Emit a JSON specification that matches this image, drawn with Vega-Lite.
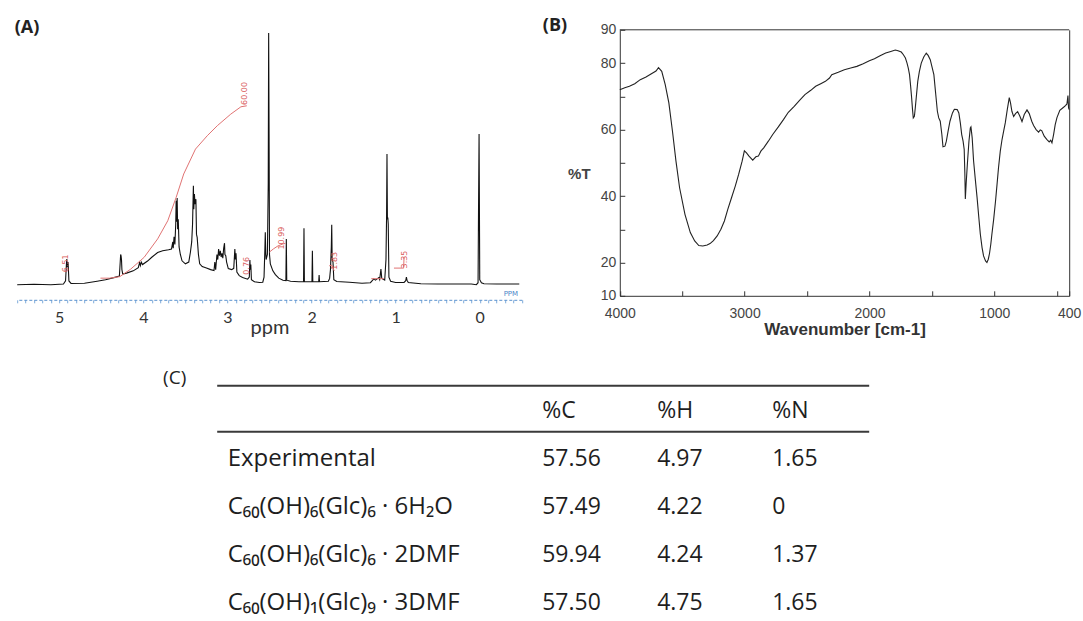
{
  "$schema": "https://vega.github.io/schema/vega-lite/v6.json",
  "padding": {"left": 13.2, "top": 16.8, "right": 4, "bottom": 2},
  "background": "white",
  "config": {
    "view": {"stroke": null},
    "axis": {"grid": false}
  },
  "datasets": {
    "nmr": [
      {"ppm": 5.5, "intensity": 0.0}, {"ppm": 5.3, "intensity": 0.2}, {"ppm": 5.1, "intensity": 0.0},
      {"ppm": 4.95, "intensity": 0.3}, {"ppm": 4.925, "intensity": 1.5}, {"ppm": 4.915, "intensity": 8.0},
      {"ppm": 4.91, "intensity": 10.2}, {"ppm": 4.905, "intensity": 7.0}, {"ppm": 4.895, "intensity": 9.0},
      {"ppm": 4.885, "intensity": 1.5}, {"ppm": 4.86, "intensity": 0.5}, {"ppm": 4.7, "intensity": 0.6},
      {"ppm": 4.55, "intensity": 1.4}, {"ppm": 4.45, "intensity": 2.0}, {"ppm": 4.35, "intensity": 2.8},
      {"ppm": 4.285, "intensity": 3.4}, {"ppm": 4.275, "intensity": 9.0}, {"ppm": 4.27, "intensity": 12.0},
      {"ppm": 4.265, "intensity": 11.5}, {"ppm": 4.26, "intensity": 10.0}, {"ppm": 4.255, "intensity": 6.0},
      {"ppm": 4.245, "intensity": 4.2}, {"ppm": 4.2, "intensity": 4.6}, {"ppm": 4.12, "intensity": 5.5},
      {"ppm": 4.06, "intensity": 6.8}, {"ppm": 4.045, "intensity": 8.8}, {"ppm": 4.035, "intensity": 7.6},
      {"ppm": 4.025, "intensity": 9.0}, {"ppm": 4.01, "intensity": 8.0}, {"ppm": 3.95, "intensity": 9.4},
      {"ppm": 3.9, "intensity": 10.9}, {"ppm": 3.83, "intensity": 12.8}, {"ppm": 3.77, "intensity": 13.5},
      {"ppm": 3.7, "intensity": 13.9}, {"ppm": 3.665, "intensity": 14.2}, {"ppm": 3.65, "intensity": 17.0},
      {"ppm": 3.645, "intensity": 14.5}, {"ppm": 3.635, "intensity": 19.0}, {"ppm": 3.625, "intensity": 16.0},
      {"ppm": 3.615, "intensity": 24.0}, {"ppm": 3.61, "intensity": 33.4}, {"ppm": 3.605, "intensity": 25.0},
      {"ppm": 3.598, "intensity": 34.5}, {"ppm": 3.592, "intensity": 22.0}, {"ppm": 3.585, "intensity": 26.0},
      {"ppm": 3.575, "intensity": 15.0}, {"ppm": 3.56, "intensity": 12.0}, {"ppm": 3.54, "intensity": 9.5},
      {"ppm": 3.5, "intensity": 8.3}, {"ppm": 3.46, "intensity": 9.0}, {"ppm": 3.44, "intensity": 13.0},
      {"ppm": 3.425, "intensity": 17.0}, {"ppm": 3.415, "intensity": 24.0}, {"ppm": 3.405, "intensity": 39.3},
      {"ppm": 3.4, "intensity": 30.0}, {"ppm": 3.393, "intensity": 36.0}, {"ppm": 3.385, "intensity": 32.0},
      {"ppm": 3.375, "intensity": 34.0}, {"ppm": 3.368, "intensity": 20.0}, {"ppm": 3.36, "intensity": 18.8},
      {"ppm": 3.345, "intensity": 12.0}, {"ppm": 3.33, "intensity": 8.3}, {"ppm": 3.3, "intensity": 7.2},
      {"ppm": 3.25, "intensity": 6.6}, {"ppm": 3.2, "intensity": 6.0}, {"ppm": 3.16, "intensity": 5.6},
      {"ppm": 3.15, "intensity": 9.0}, {"ppm": 3.14, "intensity": 6.0}, {"ppm": 3.125, "intensity": 12.0},
      {"ppm": 3.115, "intensity": 10.0}, {"ppm": 3.105, "intensity": 14.2}, {"ppm": 3.095, "intensity": 11.5},
      {"ppm": 3.085, "intensity": 13.5}, {"ppm": 3.075, "intensity": 11.0}, {"ppm": 3.065, "intensity": 12.5},
      {"ppm": 3.055, "intensity": 10.5}, {"ppm": 3.045, "intensity": 14.5}, {"ppm": 3.035, "intensity": 16.5},
      {"ppm": 3.03, "intensity": 12.0}, {"ppm": 3.02, "intensity": 11.5}, {"ppm": 3.01, "intensity": 9.0},
      {"ppm": 2.99, "intensity": 6.4}, {"ppm": 2.95, "intensity": 6.0}, {"ppm": 2.925, "intensity": 6.5},
      {"ppm": 2.912, "intensity": 14.2}, {"ppm": 2.905, "intensity": 10.0}, {"ppm": 2.898, "intensity": 12.5},
      {"ppm": 2.888, "intensity": 5.0}, {"ppm": 2.86, "intensity": 3.6}, {"ppm": 2.82, "intensity": 2.9},
      {"ppm": 2.76, "intensity": 2.2}, {"ppm": 2.74, "intensity": 3.0}, {"ppm": 2.733, "intensity": 9.8},
      {"ppm": 2.728, "intensity": 6.0}, {"ppm": 2.722, "intensity": 8.0}, {"ppm": 2.715, "intensity": 2.0},
      {"ppm": 2.68, "intensity": 1.2}, {"ppm": 2.62, "intensity": 0.9}, {"ppm": 2.58, "intensity": 1.0},
      {"ppm": 2.565, "intensity": 3.0}, {"ppm": 2.555, "intensity": 14.0}, {"ppm": 2.55, "intensity": 20.8},
      {"ppm": 2.545, "intensity": 13.0}, {"ppm": 2.54, "intensity": 10.0}, {"ppm": 2.525, "intensity": 12.0},
      {"ppm": 2.515, "intensity": 40.0}, {"ppm": 2.51, "intensity": 100.0}, {"ppm": 2.505, "intensity": 60.0},
      {"ppm": 2.5, "intensity": 12.0}, {"ppm": 2.49, "intensity": 8.3}, {"ppm": 2.46, "intensity": 5.5},
      {"ppm": 2.43, "intensity": 4.0}, {"ppm": 2.39, "intensity": 2.6}, {"ppm": 2.34, "intensity": 1.8},
      {"ppm": 2.305, "intensity": 1.6}, {"ppm": 2.3, "intensity": 18.2}, {"ppm": 2.295, "intensity": 1.8},
      {"ppm": 2.25, "intensity": 1.4}, {"ppm": 2.15, "intensity": 1.2}, {"ppm": 2.095, "intensity": 1.3},
      {"ppm": 2.09, "intensity": 22.4}, {"ppm": 2.085, "intensity": 1.3}, {"ppm": 2.04, "intensity": 1.2},
      {"ppm": 1.995, "intensity": 1.2}, {"ppm": 1.99, "intensity": 13.5}, {"ppm": 1.985, "intensity": 1.2},
      {"ppm": 1.94, "intensity": 1.2}, {"ppm": 1.915, "intensity": 1.2}, {"ppm": 1.91, "intensity": 3.8},
      {"ppm": 1.905, "intensity": 1.2}, {"ppm": 1.8, "intensity": 1.4}, {"ppm": 1.785, "intensity": 2.5},
      {"ppm": 1.775, "intensity": 6.0}, {"ppm": 1.765, "intensity": 15.0}, {"ppm": 1.76, "intensity": 23.8},
      {"ppm": 1.755, "intensity": 10.0}, {"ppm": 1.745, "intensity": 9.0}, {"ppm": 1.735, "intensity": 2.0},
      {"ppm": 1.7, "intensity": 1.3}, {"ppm": 1.55, "intensity": 1.0}, {"ppm": 1.4, "intensity": 0.6},
      {"ppm": 1.3, "intensity": 0.8}, {"ppm": 1.26, "intensity": 2.3}, {"ppm": 1.24, "intensity": 1.8},
      {"ppm": 1.2, "intensity": 2.8}, {"ppm": 1.19, "intensity": 2.0}, {"ppm": 1.175, "intensity": 6.2},
      {"ppm": 1.165, "intensity": 2.5}, {"ppm": 1.13, "intensity": 1.8}, {"ppm": 1.115, "intensity": 10.0},
      {"ppm": 1.108, "intensity": 26.7}, {"ppm": 1.103, "intensity": 51.9}, {"ppm": 1.098, "intensity": 26.0},
      {"ppm": 1.093, "intensity": 26.7}, {"ppm": 1.088, "intensity": 24.0}, {"ppm": 1.08, "intensity": 3.0},
      {"ppm": 1.06, "intensity": 1.4}, {"ppm": 1.0, "intensity": 0.9}, {"ppm": 0.9, "intensity": 0.9},
      {"ppm": 0.88, "intensity": 1.6}, {"ppm": 0.872, "intensity": 3.0}, {"ppm": 0.865, "intensity": 1.8},
      {"ppm": 0.85, "intensity": 0.9}, {"ppm": 0.7, "intensity": 0.4}, {"ppm": 0.5, "intensity": 0.3},
      {"ppm": 0.3, "intensity": 0.3}, {"ppm": 0.1, "intensity": 0.3}, {"ppm": 0.04, "intensity": 0.0},
      {"ppm": 0.02, "intensity": 0.8}, {"ppm": 0.015, "intensity": 26.7}, {"ppm": 0.008, "intensity": 59.9},
      {"ppm": 0.0, "intensity": 2.0}, {"ppm": -0.02, "intensity": 0.8}, {"ppm": -0.05, "intensity": 0.4},
      {"ppm": -0.2, "intensity": 0.3}, {"ppm": -0.47, "intensity": 0.3}
    ],
    "integrals": [
      {"region": "a", "ppm": 4.51, "intensity": 2.6}, {"region": "a", "ppm": 4.4, "intensity": 2.6},
      {"region": "a", "ppm": 4.28, "intensity": 3.2}, {"region": "a", "ppm": 4.15, "intensity": 6.2},
      {"region": "a", "ppm": 3.99, "intensity": 10.9}, {"region": "a", "ppm": 3.83, "intensity": 18.2},
      {"region": "a", "ppm": 3.71, "intensity": 25.4}, {"region": "a", "ppm": 3.61, "intensity": 34.7},
      {"region": "a", "ppm": 3.52, "intensity": 44.0}, {"region": "a", "ppm": 3.38, "intensity": 53.9},
      {"region": "a", "ppm": 3.24, "intensity": 59.2}, {"region": "a", "ppm": 3.12, "intensity": 63.2},
      {"region": "a", "ppm": 2.96, "intensity": 67.8}, {"region": "a", "ppm": 2.84, "intensity": 70.7},
      {"region": "a", "ppm": 2.77, "intensity": 71.1},
      {"region": "b", "ppm": 2.5, "intensity": 13.0}, {"region": "b", "ppm": 2.45, "intensity": 14.3},
      {"region": "b", "ppm": 2.4, "intensity": 15.4}, {"region": "b", "ppm": 2.34, "intensity": 16.2},
      {"region": "b", "ppm": 2.31, "intensity": 16.4},
      {"region": "c", "ppm": 1.79, "intensity": 7.5}, {"region": "c", "ppm": 1.76, "intensity": 7.8},
      {"region": "c", "ppm": 1.73, "intensity": 5.5},
      {"region": "d", "ppm": 1.29, "intensity": 2.4}, {"region": "d", "ppm": 1.14, "intensity": 2.4},
      {"region": "e", "ppm": 1.02, "intensity": 6.6}, {"region": "e", "ppm": 0.905, "intensity": 6.6},
      {"region": "e", "ppm": 0.9, "intensity": 10.9}
    ],
    "integralLabels": [
      {"ppm": 2.79, "intensity": 76.0, "label": "60.00"},
      {"ppm": 2.35, "intensity": 18.5, "label": "10.99"},
      {"ppm": 2.77, "intensity": 7.5, "label": "0.76"},
      {"ppm": 1.72, "intensity": 9.5, "label": "1.83"},
      {"ppm": 0.89, "intensity": 10.0, "label": "3.35"},
      {"ppm": 4.92, "intensity": 8.5, "label": "6.51"}
    ],
    "ir": [
      {"wavenumber": 4000, "transmittance": 72.0}, {"wavenumber": 3960, "transmittance": 72.6},
      {"wavenumber": 3923, "transmittance": 73.0}, {"wavenumber": 3880, "transmittance": 73.8},
      {"wavenumber": 3836, "transmittance": 75.0}, {"wavenumber": 3790, "transmittance": 75.8},
      {"wavenumber": 3750, "transmittance": 76.7}, {"wavenumber": 3710, "transmittance": 77.6},
      {"wavenumber": 3690, "transmittance": 78.6}, {"wavenumber": 3664, "transmittance": 77.5},
      {"wavenumber": 3636, "transmittance": 73.5}, {"wavenumber": 3607, "transmittance": 68.0},
      {"wavenumber": 3578, "transmittance": 59.5}, {"wavenumber": 3550, "transmittance": 50.5},
      {"wavenumber": 3521, "transmittance": 42.5}, {"wavenumber": 3478, "transmittance": 34.5},
      {"wavenumber": 3435, "transmittance": 29.0}, {"wavenumber": 3400, "transmittance": 26.5},
      {"wavenumber": 3367, "transmittance": 25.1}, {"wavenumber": 3335, "transmittance": 25.0},
      {"wavenumber": 3300, "transmittance": 25.3}, {"wavenumber": 3277, "transmittance": 25.7},
      {"wavenumber": 3250, "transmittance": 26.6}, {"wavenumber": 3220, "transmittance": 28.0},
      {"wavenumber": 3190, "transmittance": 30.0}, {"wavenumber": 3162, "transmittance": 32.5},
      {"wavenumber": 3135, "transmittance": 36.0}, {"wavenumber": 3105, "transmittance": 39.5},
      {"wavenumber": 3075, "transmittance": 43.0}, {"wavenumber": 3048, "transmittance": 46.5},
      {"wavenumber": 3020, "transmittance": 50.5}, {"wavenumber": 3002, "transmittance": 53.6},
      {"wavenumber": 2985, "transmittance": 53.0}, {"wavenumber": 2965, "transmittance": 52.0},
      {"wavenumber": 2935, "transmittance": 50.8}, {"wavenumber": 2910, "transmittance": 51.8},
      {"wavenumber": 2890, "transmittance": 52.0}, {"wavenumber": 2870, "transmittance": 53.5},
      {"wavenumber": 2847, "transmittance": 54.5}, {"wavenumber": 2810, "transmittance": 56.5},
      {"wavenumber": 2775, "transmittance": 58.5}, {"wavenumber": 2730, "transmittance": 60.8},
      {"wavenumber": 2689, "transmittance": 63.0}, {"wavenumber": 2650, "transmittance": 65.2},
      {"wavenumber": 2603, "transmittance": 67.0}, {"wavenumber": 2560, "transmittance": 68.8},
      {"wavenumber": 2517, "transmittance": 70.5}, {"wavenumber": 2470, "transmittance": 71.8},
      {"wavenumber": 2431, "transmittance": 73.0}, {"wavenumber": 2390, "transmittance": 73.8},
      {"wavenumber": 2353, "transmittance": 74.5}, {"wavenumber": 2320, "transmittance": 75.5},
      {"wavenumber": 2302, "transmittance": 76.5}, {"wavenumber": 2250, "transmittance": 77.2},
      {"wavenumber": 2201, "transmittance": 78.0}, {"wavenumber": 2150, "transmittance": 78.5},
      {"wavenumber": 2101, "transmittance": 79.0}, {"wavenumber": 2050, "transmittance": 79.8},
      {"wavenumber": 2001, "transmittance": 80.7}, {"wavenumber": 1960, "transmittance": 81.3},
      {"wavenumber": 1915, "transmittance": 82.2}, {"wavenumber": 1870, "transmittance": 83.0},
      {"wavenumber": 1829, "transmittance": 83.5}, {"wavenumber": 1793, "transmittance": 83.9},
      {"wavenumber": 1771, "transmittance": 83.7}, {"wavenumber": 1745, "transmittance": 83.3},
      {"wavenumber": 1728, "transmittance": 82.5}, {"wavenumber": 1712, "transmittance": 81.5},
      {"wavenumber": 1699, "transmittance": 80.0}, {"wavenumber": 1689, "transmittance": 78.5},
      {"wavenumber": 1679, "transmittance": 76.5}, {"wavenumber": 1670, "transmittance": 73.0},
      {"wavenumber": 1662, "transmittance": 69.5}, {"wavenumber": 1655, "transmittance": 66.0},
      {"wavenumber": 1649, "transmittance": 63.5}, {"wavenumber": 1640, "transmittance": 64.0},
      {"wavenumber": 1633, "transmittance": 66.5}, {"wavenumber": 1623, "transmittance": 70.5},
      {"wavenumber": 1613, "transmittance": 74.5}, {"wavenumber": 1600, "transmittance": 77.5},
      {"wavenumber": 1585, "transmittance": 80.0}, {"wavenumber": 1565, "transmittance": 81.8},
      {"wavenumber": 1545, "transmittance": 83.0}, {"wavenumber": 1530, "transmittance": 82.3},
      {"wavenumber": 1513, "transmittance": 81.0}, {"wavenumber": 1500, "transmittance": 79.0},
      {"wavenumber": 1484, "transmittance": 76.5}, {"wavenumber": 1470, "transmittance": 71.0},
      {"wavenumber": 1456, "transmittance": 65.5}, {"wavenumber": 1445, "transmittance": 63.5},
      {"wavenumber": 1433, "transmittance": 62.5}, {"wavenumber": 1420, "transmittance": 58.5},
      {"wavenumber": 1411, "transmittance": 54.8}, {"wavenumber": 1395, "transmittance": 55.0},
      {"wavenumber": 1384, "transmittance": 56.5}, {"wavenumber": 1370, "transmittance": 59.5},
      {"wavenumber": 1355, "transmittance": 62.5}, {"wavenumber": 1335, "transmittance": 65.0},
      {"wavenumber": 1320, "transmittance": 66.1}, {"wavenumber": 1297, "transmittance": 66.0},
      {"wavenumber": 1284, "transmittance": 65.0}, {"wavenumber": 1272, "transmittance": 62.0},
      {"wavenumber": 1261, "transmittance": 58.5}, {"wavenumber": 1250, "transmittance": 56.5},
      {"wavenumber": 1241, "transmittance": 54.0}, {"wavenumber": 1236, "transmittance": 47.0},
      {"wavenumber": 1232, "transmittance": 39.1}, {"wavenumber": 1225, "transmittance": 44.0},
      {"wavenumber": 1215, "transmittance": 50.0}, {"wavenumber": 1203, "transmittance": 56.5},
      {"wavenumber": 1192, "transmittance": 60.5}, {"wavenumber": 1187, "transmittance": 60.8},
      {"wavenumber": 1177, "transmittance": 57.5}, {"wavenumber": 1166, "transmittance": 50.6},
      {"wavenumber": 1152, "transmittance": 45.0}, {"wavenumber": 1138, "transmittance": 39.6},
      {"wavenumber": 1125, "transmittance": 34.0}, {"wavenumber": 1112, "transmittance": 28.6},
      {"wavenumber": 1098, "transmittance": 24.5}, {"wavenumber": 1086, "transmittance": 22.0},
      {"wavenumber": 1070, "transmittance": 20.5}, {"wavenumber": 1059, "transmittance": 20.0},
      {"wavenumber": 1048, "transmittance": 21.0}, {"wavenumber": 1038, "transmittance": 22.8},
      {"wavenumber": 1028, "transmittance": 25.5}, {"wavenumber": 1019, "transmittance": 28.6},
      {"wavenumber": 1005, "transmittance": 33.0}, {"wavenumber": 990, "transmittance": 38.5},
      {"wavenumber": 978, "transmittance": 43.5}, {"wavenumber": 966, "transmittance": 48.6},
      {"wavenumber": 952, "transmittance": 53.5}, {"wavenumber": 938, "transmittance": 57.0},
      {"wavenumber": 925, "transmittance": 59.5}, {"wavenumber": 912, "transmittance": 62.0},
      {"wavenumber": 896, "transmittance": 66.0}, {"wavenumber": 880, "transmittance": 69.6},
      {"wavenumber": 870, "transmittance": 68.0}, {"wavenumber": 859, "transmittance": 65.5},
      {"wavenumber": 845, "transmittance": 63.9}, {"wavenumber": 830, "transmittance": 64.8},
      {"wavenumber": 813, "transmittance": 65.4}, {"wavenumber": 795, "transmittance": 64.0},
      {"wavenumber": 778, "transmittance": 62.4}, {"wavenumber": 760, "transmittance": 64.5},
      {"wavenumber": 738, "transmittance": 65.9}, {"wavenumber": 720, "transmittance": 64.8},
      {"wavenumber": 700, "transmittance": 62.5}, {"wavenumber": 685, "transmittance": 61.2},
      {"wavenumber": 665, "transmittance": 60.0}, {"wavenumber": 645, "transmittance": 59.2},
      {"wavenumber": 632, "transmittance": 59.9}, {"wavenumber": 620, "transmittance": 59.7},
      {"wavenumber": 600, "transmittance": 58.0}, {"wavenumber": 578, "transmittance": 57.0},
      {"wavenumber": 560, "transmittance": 56.3}, {"wavenumber": 548, "transmittance": 56.8},
      {"wavenumber": 538, "transmittance": 56.0}, {"wavenumber": 525, "transmittance": 58.5},
      {"wavenumber": 512, "transmittance": 61.5}, {"wavenumber": 498, "transmittance": 63.6},
      {"wavenumber": 475, "transmittance": 65.8}, {"wavenumber": 445, "transmittance": 66.7},
      {"wavenumber": 430, "transmittance": 67.2}, {"wavenumber": 418, "transmittance": 67.7},
      {"wavenumber": 410, "transmittance": 70.2}, {"wavenumber": 405, "transmittance": 66.5},
      {"wavenumber": 400, "transmittance": 66.0}
    ],
    "elemental": [
      {"sample": "Experimental", "%C": "57.56", "%H": "4.97", "%N": "1.65"},
      {"sample": "C₆₀(OH)₆(Glc)₆ · 6H₂O", "%C": "57.49", "%H": "4.22", "%N": "0"},
      {"sample": "C₆₀(OH)₆(Glc)₆ · 2DMF", "%C": "59.94", "%H": "4.24", "%N": "1.37"},
      {"sample": "C₆₀(OH)₁(Glc)₉ · 3DMF", "%C": "57.50", "%H": "4.75", "%N": "1.65"}
    ]
  },
  "vconcat": [
    {
      "width": 1052,
      "height": 270,
      "layer": [
        {
          "layer": [
            {
              "data": {"name": "nmr"},
              "mark": {"type": "line", "color": "#111", "strokeWidth": 1.1},
              "encoding": {
                "x": {
                  "field": "ppm", "type": "quantitative",
                  "scale": {"domain": [-0.5, 5.5], "reverse": true, "nice": false, "zero": false, "range": [0, 504.6]},
                  "axis": {
                    "orient": "bottom", "offset": 0,
                    "tickCount": 60, "format": ".1f",
                    "labelExpr": "abs(datum.value - round(datum.value)) < 0.001 ? format(datum.value, 'd') : ''",
                    "labelOverlap": false, "labelFlush": false,
                    "domainColor": "#5b93cf", "domainDash": [3, 2], "domainWidth": 1,
                    "tickColor": "#5b93cf", "tickSize": 3, "tickWidth": 0.8,
                    "labelFont": "Lato", "labelFontSize": 16, "labelColor": "#333",
                    "labelBaseline": "alphabetic", "labelPadding": 20,
                    "title": "ppm", "titleFont": "Lato", "titleFontSize": 20, "titleFontWeight": "normal",
                    "titleColor": "#333", "titleBaseline": "alphabetic", "titleY": 34
                  }
                },
                "y": {
                  "field": "intensity", "type": "quantitative",
                  "scale": {"domain": [-6, 101.3], "nice": false, "zero": false, "range": [270, 0]},
                  "axis": {
                    "orient": "left", "domain": false, "ticks": false, "labels": false, "grid": false,
                    "title": "(A)", "titleAngle": 0, "titleAlign": "center", "titleBaseline": "middle",
                    "titleX": 9.3, "titleY": -2.5,
                    "titleFont": "Open Sans", "titleFontSize": 18, "titleFontWeight": "bold", "titleColor": "#222"
                  }
                }
              }
            },
            {
              "data": {"name": "integrals"},
              "mark": {"type": "line", "color": "#e07272", "strokeWidth": 1},
              "encoding": {
                "x": {"field": "ppm", "type": "quantitative"},
                "y": {"field": "intensity", "type": "quantitative"},
                "detail": {"field": "region"}
              }
            },
            {
              "data": {"name": "integralLabels"},
              "mark": {"type": "text", "angle": 270, "color": "#d95a5a", "fontSize": 8, "font": "DejaVu Sans"},
              "encoding": {
                "x": {"field": "ppm", "type": "quantitative"},
                "y": {"field": "intensity", "type": "quantitative"},
                "text": {"field": "label"}
              }
            },
            {
              "data": {"values": [{"ppm": -0.37, "intensity": -3.8, "label": "PPM"}]},
              "mark": {"type": "text", "color": "#4a86c8", "fontSize": 7, "font": "DejaVu Sans"},
              "encoding": {
                "x": {"field": "ppm", "type": "quantitative"},
                "y": {"field": "intensity", "type": "quantitative"},
                "text": {"field": "label"}
              }
            }
          ]
        },
        {
          "layer": [
            {
              "data": {"name": "ir"},
              "mark": {"type": "line", "color": "#222", "strokeWidth": 1.1},
              "encoding": {
                "x": {
                  "field": "wavenumber", "type": "quantitative",
                  "scale": {"domain": [400, 4000], "reverse": true, "nice": false, "zero": false, "range": [602.6, 1052]},
                  "axis": {
                    "orient": "bottom", "offset": -4,
                    "values": [4000, 3500, 3000, 2500, 2000, 1500, 1000, 500, 400],
                    "format": "d",
                    "labelExpr": "indexof([4000, 3000, 2000, 1000, 400], datum.value) >= 0 ? datum.label : ''",
                    "labelOverlap": false, "labelFlush": false,
                    "domainColor": "#333", "tickColor": "#333", "tickSize": -5,
                    "labelFont": "Liberation Sans", "labelFontSize": 14, "labelColor": "#444",
                    "labelBaseline": "alphabetic", "labelPadding": 27,
                    "title": "Wavenumber [cm-1]", "titleFont": "Liberation Sans", "titleFontSize": 17,
                    "titleFontWeight": "bold", "titleColor": "#333", "titleBaseline": "alphabetic", "titleY": 39
                  }
                },
                "y": {
                  "field": "transmittance", "type": "quantitative",
                  "scale": {"domain": [10, 90], "nice": false, "zero": false, "range": [266, 0]},
                  "axis": {
                    "orient": "left", "offset": -602.6,
                    "values": [10, 20, 30, 40, 50, 60, 70, 80, 90],
                    "labelExpr": "indexof([30, 50, 70], datum.value) >= 0 ? '' : datum.label",
                    "labelOverlap": false, "labelFlush": false,
                    "domainColor": "#333", "tickColor": "#333", "tickSize": -5,
                    "labelFont": "Liberation Sans", "labelFontSize": 14, "labelColor": "#444",
                    "labelPadding": 9,
                    "title": "%T", "titleFont": "Liberation Sans", "titleFontSize": 15, "titleFontWeight": "bold",
                    "titleColor": "#444", "titleAngle": 0, "titleAlign": "center", "titleBaseline": "middle",
                    "titleX": -41, "titleY": 144
                  }
                }
              }
            },
            {
              "data": {"values": [{}]},
              "mark": {"type": "rule", "color": "#333", "strokeWidth": 1},
              "encoding": {
                "x": {"datum": 4000, "type": "quantitative", "axis": null},
                "x2": {"datum": 400},
                "y": {
                  "datum": 90, "type": "quantitative",
                  "axis": {
                    "orient": "right", "offset": 0, "domain": true, "domainColor": "#333",
                    "ticks": false, "labels": false, "grid": false,
                    "title": "(B)", "titleAngle": 0, "titleAlign": "center", "titleBaseline": "middle",
                    "titleX": -514.7, "titleY": -4,
                    "titleFont": "Open Sans", "titleFontSize": 18, "titleFontWeight": "bold", "titleColor": "#222"
                  }
                }
              }
            }
          ],
          "resolve": {"axis": {"x": "independent", "y": "independent"}}
        }
      ],
      "resolve": {
        "scale": {"x": "independent", "y": "independent"},
        "axis": {"x": "independent", "y": "independent"}
      }
    },
    {
      "width": 652,
      "height": 230,
      "data": {"name": "elemental"},
      "layer": [
        {
          "mark": {"type": "rule", "color": "#3a3a3a", "strokeWidth": 2, "yOffset": -25},
          "transform": [{"filter": "datum.sample === 'Experimental'"}],
          "encoding": {"y": {"datum": "head", "type": "nominal"}}
        },
        {
          "mark": {"type": "rule", "color": "#3a3a3a", "strokeWidth": 2, "yOffset": 21},
          "transform": [{"filter": "datum.sample === 'Experimental'"}],
          "encoding": {"y": {"datum": "head", "type": "nominal"}}
        },
        {
          "transform": [{"fold": ["%C", "%H", "%N"], "as": ["key", "value"]}],
          "mark": {"type": "text", "align": "left", "baseline": "middle", "fontSize": 23, "font": "Open Sans", "color": "#1e1e1e"},
          "encoding": {
            "x": {"field": "key", "type": "nominal", "scale": {"type": "point", "domain": ["%C", "%H", "%N"], "range": [325, 555], "padding": 0}, "axis": null},
            "y": {
              "field": "sample", "type": "nominal",
              "scale": {"type": "point", "domain": ["head", "Experimental", "C₆₀(OH)₆(Glc)₆ · 6H₂O", "C₆₀(OH)₆(Glc)₆ · 2DMF", "C₆₀(OH)₁(Glc)₉ · 3DMF"], "range": [25, 217], "padding": 0},
              "axis": {
                "orient": "left", "domain": false, "ticks": false, "tickSize": 0,
                "labelAlign": "left", "labelBaseline": "middle", "labelPadding": -10, "labelLimit": 0, "labelOverlap": false,
                "labelFont": "Open Sans, Noto Sans", "labelFontSize": 24, "labelColor": "#1e1e1e",
                "labelExpr": "datum.value === 'head' ? '' : datum.value",
                "title": "(C)", "titleAngle": 0, "titleAlign": "center", "titleBaseline": "middle",
                "titleX": -43, "titleY": -8.5,
                "titleFont": "Open Sans", "titleFontSize": 19, "titleFontWeight": "normal", "titleColor": "#222"
              }
            },
            "text": {"field": "value"}
          }
        },
        {
          "transform": [{"filter": "datum.sample === 'Experimental'"}, {"fold": ["%C", "%H", "%N"], "as": ["key", "value"]}],
          "mark": {"type": "text", "align": "left", "baseline": "middle", "fontSize": 23, "font": "Open Sans", "color": "#1e1e1e"},
          "encoding": {
            "x": {"field": "key", "type": "nominal"},
            "y": {"datum": "head", "type": "nominal"},
            "text": {"field": "key"}
          }
        }
      ]
    }
  ],
  "spacing": 86,
  "bounds": "flush",
  "center": true
}
